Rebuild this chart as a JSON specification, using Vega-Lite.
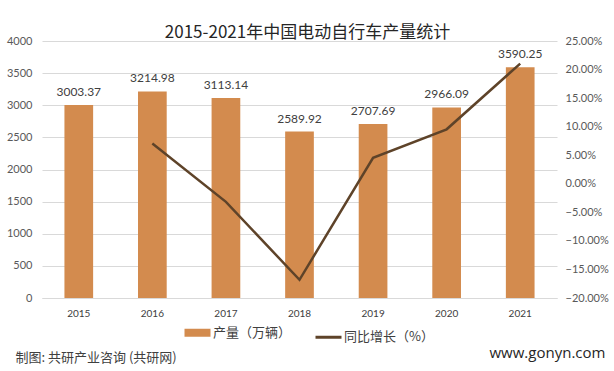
{
  "$schema": "https://vega.github.io/schema/vega-lite/v6.json",
  "autosize": {"type": "none"},
  "width": 515,
  "height": 257,
  "padding": {"top": 41, "left": 42, "right": 57, "bottom": 73},
  "background": "#ffffff",
  "title": {
    "text": "2015-2021年中国电动自行车产量统计",
    "font": "Noto Sans CJK SC",
    "fontSize": 17,
    "fontWeight": "normal",
    "color": "#262626",
    "anchor": "middle",
    "dx": 8,
    "dy": 12,
    "offset": 5
  },
  "data": {
    "values": [
      {"year": "2015", "output": 3003.37, "growth": null},
      {"year": "2016", "output": 3214.98, "growth": 0.0705},
      {"year": "2017", "output": 3113.14, "growth": -0.0317},
      {"year": "2018", "output": 2589.92, "growth": -0.1681},
      {"year": "2019", "output": 2707.69, "growth": 0.0455},
      {"year": "2020", "output": 2966.09, "growth": 0.0954},
      {"year": "2021", "output": 3590.25, "growth": 0.2104}
    ]
  },
  "encoding": {
    "x": {
      "field": "year",
      "type": "nominal",
      "scale": {"paddingInner": 0.61, "paddingOuter": 0.305},
      "axis": {
        "title": null,
        "labelAngle": 0,
        "labelFont": "Lato",
        "labelFontSize": 10,
        "labelColor": "#404040",
        "labelPadding": 10,
        "ticks": false,
        "domainColor": "#D9D9D9",
        "grid": false
      }
    }
  },
  "layer": [
    {
      "mark": {"type": "bar"},
      "encoding": {
        "y": {
          "field": "output",
          "type": "quantitative",
          "scale": {"domain": [0, 4000], "nice": false},
          "axis": {
            "values": [0, 500, 1000, 1500, 2000, 2500, 3000, 3500, 4000],
            "format": "d",
            "title": "制图: 共研产业咨询 (共研网)",
            "titleAngle": 0,
            "titleAlign": "left",
            "titleBaseline": "middle",
            "titleX": -27,
            "titleY": 316,
            "titleFont": "Noto Sans CJK SC",
            "titleFontSize": 13,
            "titleFontWeight": "normal",
            "titleColor": "#404040",
            "labelFont": "Lato",
            "labelFontSize": 11,
            "labelColor": "#595959",
            "labelPadding": 10,
            "ticks": false,
            "domain": false,
            "grid": true,
            "gridColor": "#D9D9D9"
          }
        },
        "color": {
          "datum": "产量（万辆）",
          "type": "nominal",
          "scale": {"domain": ["产量（万辆）", "同比增长（%）"], "range": ["#D38B4E", "#5E4329"]},
          "legend": {
            "title": null,
            "orient": "none",
            "direction": "horizontal",
            "legendX": 149,
            "legendY": 285,
            "symbolType": "stroke",
            "symbolSize": 676,
            "labelFont": "Noto Sans CJK SC",
            "labelFontSize": 13,
            "labelColor": "#404040",
            "labelOffset": 9,
            "columnPadding": 17,
            "encode": {
              "symbols": {
                "update": {
                  "stroke": {"signal": "scale('color', datum.value)"},
                  "strokeWidth": {"signal": "datum.value === '产量（万辆）' ? 8 : 3"}
                }
              }
            }
          }
        }
      }
    },
    {
      "mark": {"type": "text", "baseline": "bottom", "dy": -6, "font": "Lato", "fontSize": 12, "color": "#404040"},
      "encoding": {
        "y": {"field": "output", "type": "quantitative", "scale": {"domain": [0, 4000], "nice": false}, "axis": null},
        "text": {"field": "output", "type": "quantitative", "format": ".2f"}
      }
    },
    {
      "transform": [{"filter": "datum.growth != null"}],
      "mark": {"type": "line", "strokeWidth": 2.5},
      "encoding": {
        "y": {
          "field": "growth",
          "type": "quantitative",
          "scale": {"domain": [-0.2, 0.25], "nice": false, "zero": false},
          "axis": {
            "orient": "right",
            "values": [-0.2, -0.15, -0.1, -0.05, 0, 0.05, 0.1, 0.15, 0.2, 0.25],
            "format": ".2%",
            "title": "www.gonyn.com",
            "titleAngle": 0,
            "titleAlign": "left",
            "titleBaseline": "middle",
            "titleX": -68,
            "titleY": 311,
            "titleFont": "Open Sans",
            "titleFontSize": 15,
            "titleFontWeight": "normal",
            "titleColor": "#262626",
            "labelFont": "Lato",
            "labelFontSize": 11,
            "labelColor": "#595959",
            "labelPadding": 8,
            "ticks": false,
            "domain": false,
            "grid": false
          }
        },
        "color": {"datum": "同比增长（%）", "type": "nominal"}
      }
    }
  ],
  "resolve": {"scale": {"y": "independent"}},
  "config": {"view": {"stroke": null}}
}
